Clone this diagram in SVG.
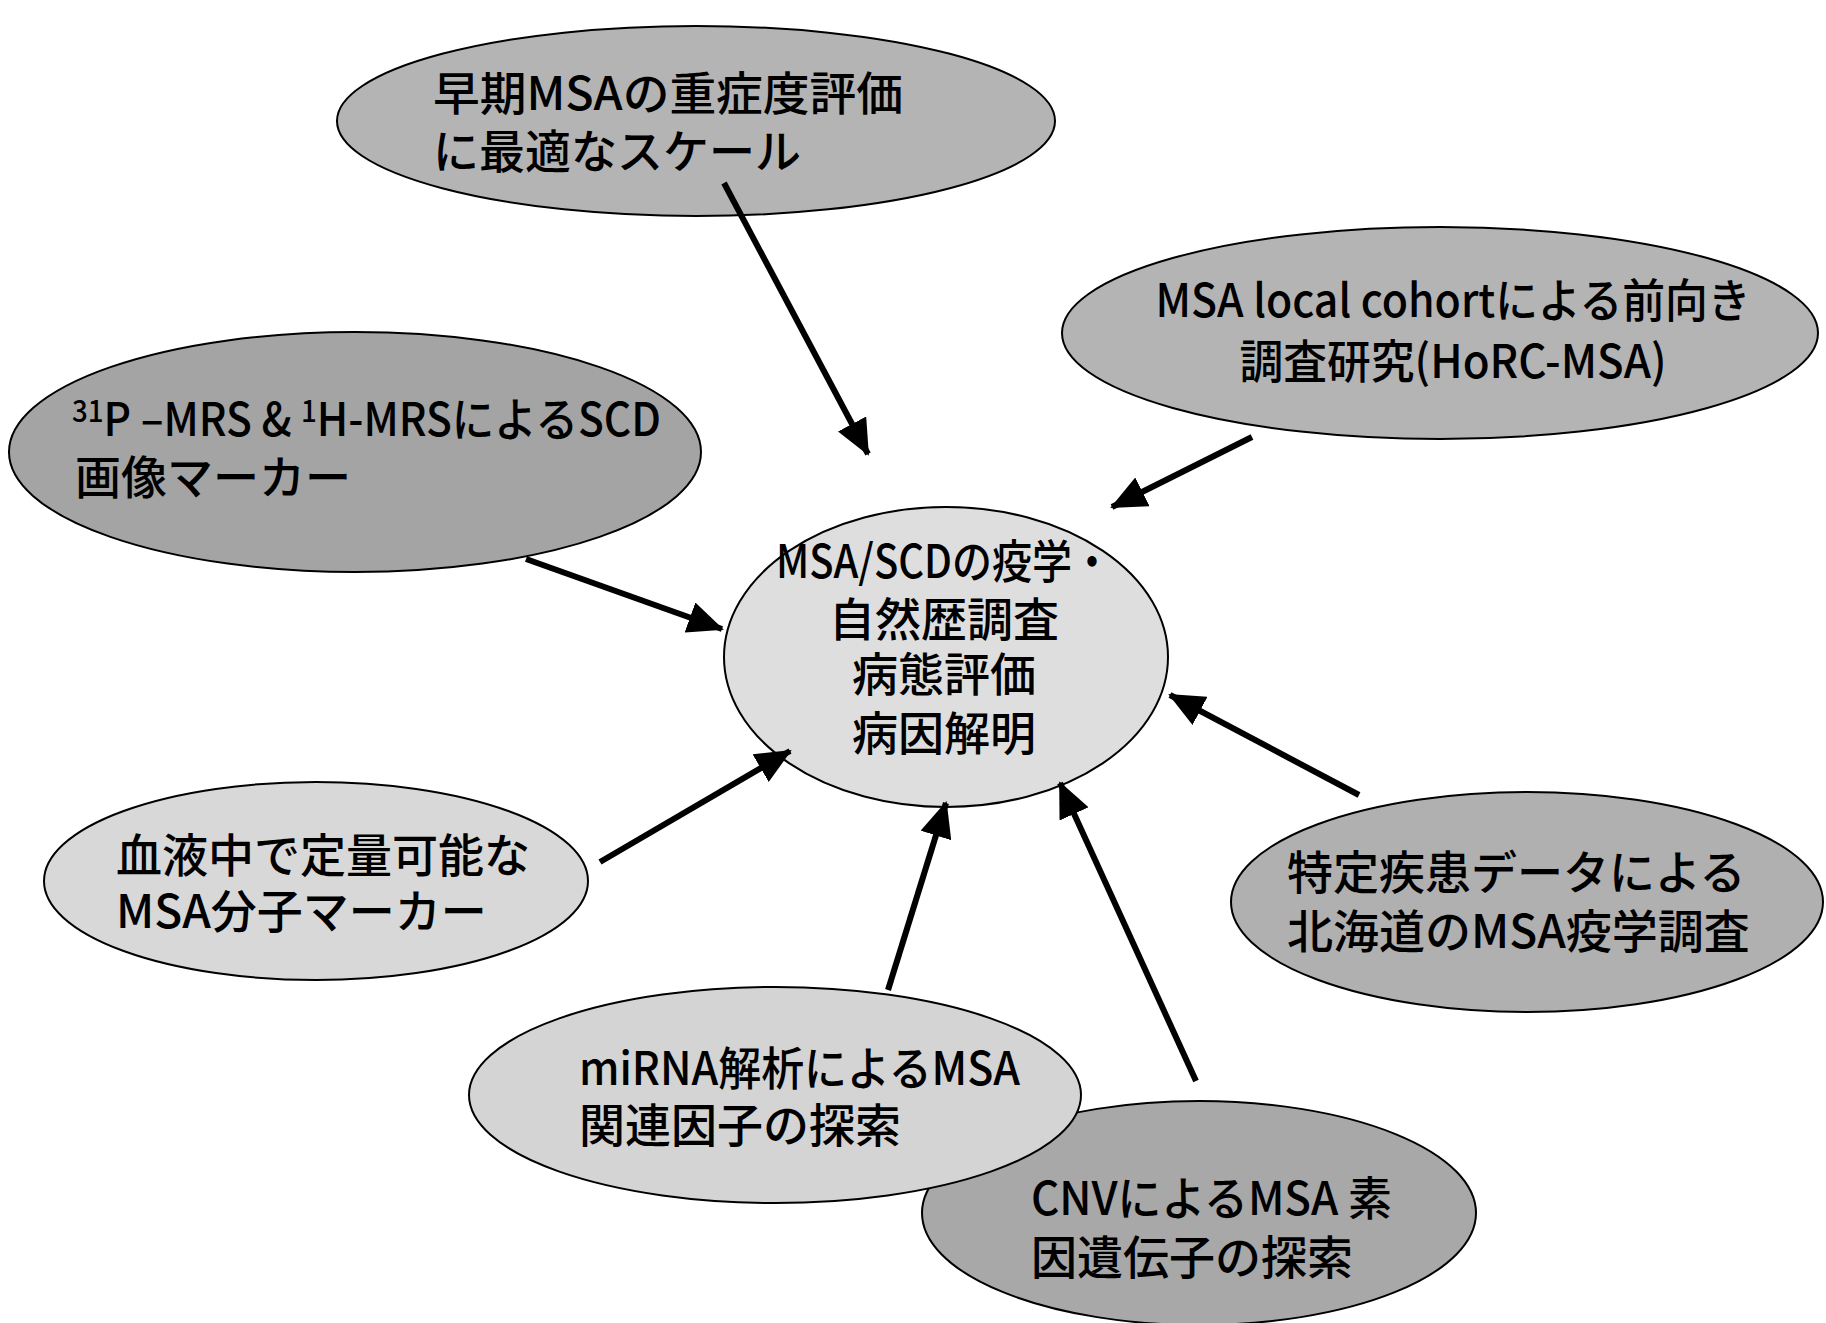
<svg xmlns="http://www.w3.org/2000/svg" width="1826" height="1323" viewBox="0 0 1826 1323">
<style>
.n{stroke:#000;stroke-width:2}
.t{font-family:"Noto Sans CJK JP","Noto Sans",sans-serif;font-size:46px;font-weight:500;fill:#000}
.c{text-anchor:middle}
.a{stroke:#000;stroke-width:6;fill:none;marker-end:url(#ah)}
</style>
<defs>
<marker id="ah" markerUnits="userSpaceOnUse" markerWidth="36" markerHeight="32" refX="34" refY="16" orient="auto">
<path d="M0,0 L36,16 L0,32 Z" fill="#000"/>
</marker>
</defs>
<rect width="1826" height="1323" fill="#fff"/>
<g id="n-top">
<ellipse class="n" cx="696" cy="121" rx="359" ry="95" fill="#b4b4b4"/>
<text class="t" x="433" y="110" textLength="470" lengthAdjust="spacingAndGlyphs">早期MSAの重症度評価</text>
<text class="t" x="433" y="168">に最適なスケール</text>
</g>
<g id="n-cohort">
<ellipse class="n" cx="1440" cy="333" rx="378" ry="106" fill="#b4b4b4"/>
<text class="t c" x="1453" y="317" textLength="595" lengthAdjust="spacingAndGlyphs">MSA local cohortによる前向き</text>
<text class="t c" x="1453" y="378" textLength="427" lengthAdjust="spacingAndGlyphs">調査研究(HoRC-MSA)</text>
</g>
<g id="n-mrs">
<ellipse class="n" cx="355" cy="452" rx="346" ry="120" fill="#a4a4a4"/>
<text class="t" x="72" y="436" textLength="589" lengthAdjust="spacingAndGlyphs"><tspan font-size="30" dy="-14">31</tspan><tspan dy="14">P –MRS &amp; </tspan><tspan font-size="30" dy="-14">1</tspan><tspan dy="14">H-MRSによるSCD</tspan></text>
<text class="t" x="75" y="494">画像マーカー</text>
</g>
<g id="n-blood">
<ellipse class="n" cx="316" cy="881" rx="272" ry="99" fill="#d8d8d8"/>
<text class="t" x="116" y="872">血液中で定量可能な</text>
<text class="t" x="116" y="928">MSA分子マーカー</text>
</g>
<g id="n-hokkaido">
<ellipse class="n" cx="1527" cy="902" rx="296" ry="110" fill="#b0b0b0"/>
<text class="t" x="1287" y="889">特定疾患データによる</text>
<text class="t" x="1287" y="948">北海道のMSA疫学調査</text>
</g>
<g id="n-cnv">
<ellipse class="n" cx="1199" cy="1213" rx="277" ry="112" fill="#a8a8a8"/>
<text class="t" x="1031" y="1215" textLength="361" lengthAdjust="spacingAndGlyphs">CNVによるMSA 素</text>
<text class="t" x="1031" y="1274">因遺伝子の探索</text>
</g>
<g id="n-mirna">
<ellipse class="n" cx="775" cy="1095" rx="306" ry="108" fill="#d4d4d4"/>
<text class="t" x="579" y="1085" textLength="441" lengthAdjust="spacingAndGlyphs">miRNA解析によるMSA</text>
<text class="t" x="579" y="1142">関連因子の探索</text>
</g>
<g id="n-center">
<ellipse class="n" cx="946" cy="657" rx="222" ry="150" fill="#dedede"/>
<text class="t c" x="944" y="578" textLength="336" lengthAdjust="spacingAndGlyphs">MSA/SCDの疫学・</text>
<text class="t c" x="944" y="636">自然歴調査</text>
<text class="t c" x="944" y="691">病態評価</text>
<text class="t c" x="944" y="750">病因解明</text>
</g>
<g id="connectors">
<line class="a" x1="724" y1="183" x2="868" y2="454"/>
<line class="a" x1="1252" y1="437" x2="1112" y2="507"/>
<line class="a" x1="526" y1="559" x2="722" y2="629"/>
<line class="a" x1="600" y1="862" x2="790" y2="751"/>
<line class="a" x1="1359" y1="795" x2="1170" y2="695"/>
<line class="a" x1="888" y1="990" x2="946" y2="803"/>
<line class="a" x1="1196" y1="1081" x2="1060" y2="783"/>
</g>
</svg>
